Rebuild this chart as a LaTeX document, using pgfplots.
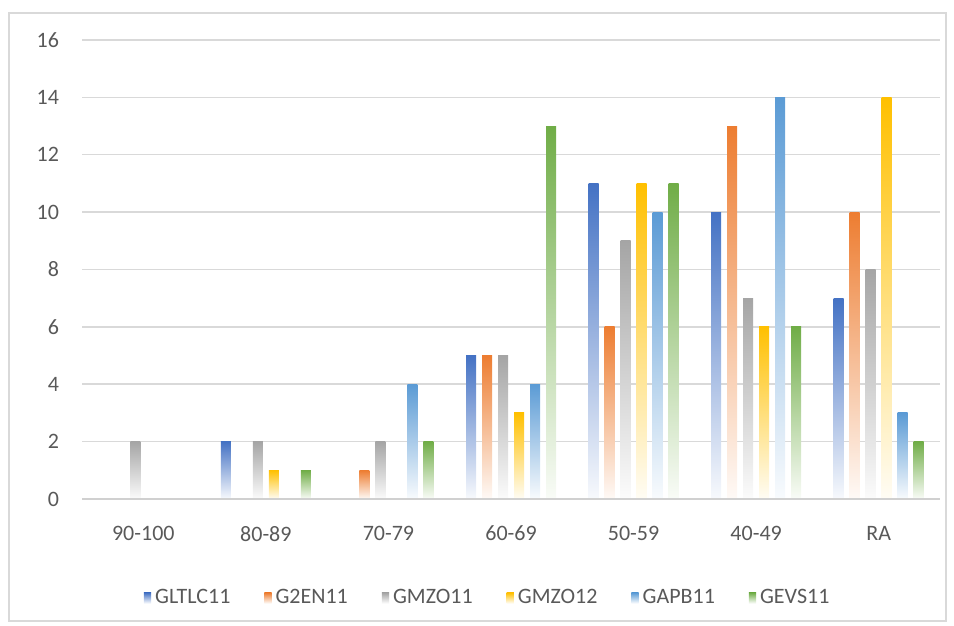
\documentclass[border=0pt]{standalone}
\usepackage{pgfplots}
\pgfplotsset{compat=1.18}
\usepackage{fontspec}
\setmainfont{Carlito}
\definecolor{cblue}{HTML}{4472C4}
\definecolor{corange}{HTML}{ED7D31}
\definecolor{cgray}{HTML}{A5A5A5}
\definecolor{cgold}{HTML}{FFC000}
\definecolor{clblue}{HTML}{5B9BD5}
\definecolor{cgreen}{HTML}{70AD47}
\definecolor{gridgray}{HTML}{D9D9D9}
\definecolor{axgray}{HTML}{D0D0D0}
\definecolor{textgray}{HTML}{595959}
\definecolor{framegray}{HTML}{D9D9D9}

% one style per series; each bar is its own plot so that its gradient spans only that bar
\pgfplotsset{
    grad/.style={draw=none, top color=#1, middle color=#1!70!white, bottom color=#1!4!white},
    s1/.style={forget plot, grad=cblue,   bar shift=-20pt},
    s2/.style={forget plot, grad=corange, bar shift=-12pt},
    s3/.style={forget plot, grad=cgray,   bar shift=-4pt},
    s4/.style={forget plot, grad=cgold,   bar shift=4pt},
    s5/.style={forget plot, grad=clblue,  bar shift=12pt},
    s6/.style={forget plot, grad=cgreen,  bar shift=20pt},
}

\begin{document}
\begin{tikzpicture}
\begin{axis}[
    scale only axis,
    width=429pt, height=229.5pt,
    ybar, bar width=5pt,
    xmin=-0.5, xmax=6.5,
    ymin=0, ymax=16,
    xtick={0,...,6},
    xticklabels={90-100,80-89,70-79,60-69,50-59,40-49,RA},
    ytick={0,2,...,16},
    ymajorgrids,
    grid style={line width=0.75pt, gridgray},
    axis x line*=bottom, axis y line*=left,
    x axis line style={draw=none}, y axis line style={draw=none},
    major tick length=0pt,
    tick label style={font=\fontsize{11}{13}\selectfont, text=textgray},
    /pgf/number format/assume math mode=true,
    yticklabel style={xshift=-8pt},
    xticklabel style={yshift=-10pt},
    clip=false,
    legend columns=6,
    legend style={at={(0.474,-0.2157)}, anchor=center, draw=none, fill=none,
        font=\fontsize{11}{13}\selectfont, text=textgray,
        /tikz/every even column/.append style={column sep=15pt}},
    legend image code/.code={\fill[#1] (0pt,-2.6pt) rectangle (3.6pt,2.6pt);},
]
% GLTLC11
\addplot[s1] coordinates {(1,2)};
\addplot[s1] coordinates {(3,5)};
\addplot[s1] coordinates {(4,11)};
\addplot[s1] coordinates {(5,10)};
\addplot[s1] coordinates {(6,7)};
% G2EN11
\addplot[s2] coordinates {(2,1)};
\addplot[s2] coordinates {(3,5)};
\addplot[s2] coordinates {(4,6)};
\addplot[s2] coordinates {(5,13)};
\addplot[s2] coordinates {(6,10)};
% GMZO11
\addplot[s3] coordinates {(0,2)};
\addplot[s3] coordinates {(1,2)};
\addplot[s3] coordinates {(2,2)};
\addplot[s3] coordinates {(3,5)};
\addplot[s3] coordinates {(4,9)};
\addplot[s3] coordinates {(5,7)};
\addplot[s3] coordinates {(6,8)};
% GMZO12
\addplot[s4] coordinates {(1,1)};
\addplot[s4] coordinates {(3,3)};
\addplot[s4] coordinates {(4,11)};
\addplot[s4] coordinates {(5,6)};
\addplot[s4] coordinates {(6,14)};
% GAPB11
\addplot[s5] coordinates {(2,4)};
\addplot[s5] coordinates {(3,4)};
\addplot[s5] coordinates {(4,10)};
\addplot[s5] coordinates {(5,14)};
\addplot[s5] coordinates {(6,3)};
% GEVS11
\addplot[s6] coordinates {(1,1)};
\addplot[s6] coordinates {(2,2)};
\addplot[s6] coordinates {(3,13)};
\addplot[s6] coordinates {(4,11)};
\addplot[s6] coordinates {(5,6)};
\addplot[s6] coordinates {(6,2)};

\addlegendimage{grad=cblue}   \addlegendentry{GLTLC11}
\addlegendimage{grad=corange} \addlegendentry{G2EN11}
\addlegendimage{grad=cgray}   \addlegendentry{GMZO11}
\addlegendimage{grad=cgold}   \addlegendentry{GMZO12}
\addlegendimage{grad=clblue}  \addlegendentry{GAPB11}
\addlegendimage{grad=cgreen}  \addlegendentry{GEVS11}

% zero line and chart frame
\draw[axgray, line width=0.75pt] (rel axis cs:0,0) -- (rel axis cs:1,0);
\draw[framegray, line width=0.8pt] (rel axis cs:-0.0851,-0.2658) rectangle (rel axis cs:1.0070,1.0588);
\path (rel axis cs:-0.0956,-0.2767) rectangle (rel axis cs:1.0163,1.0871);
\end{axis}
\end{tikzpicture}
\end{document}
